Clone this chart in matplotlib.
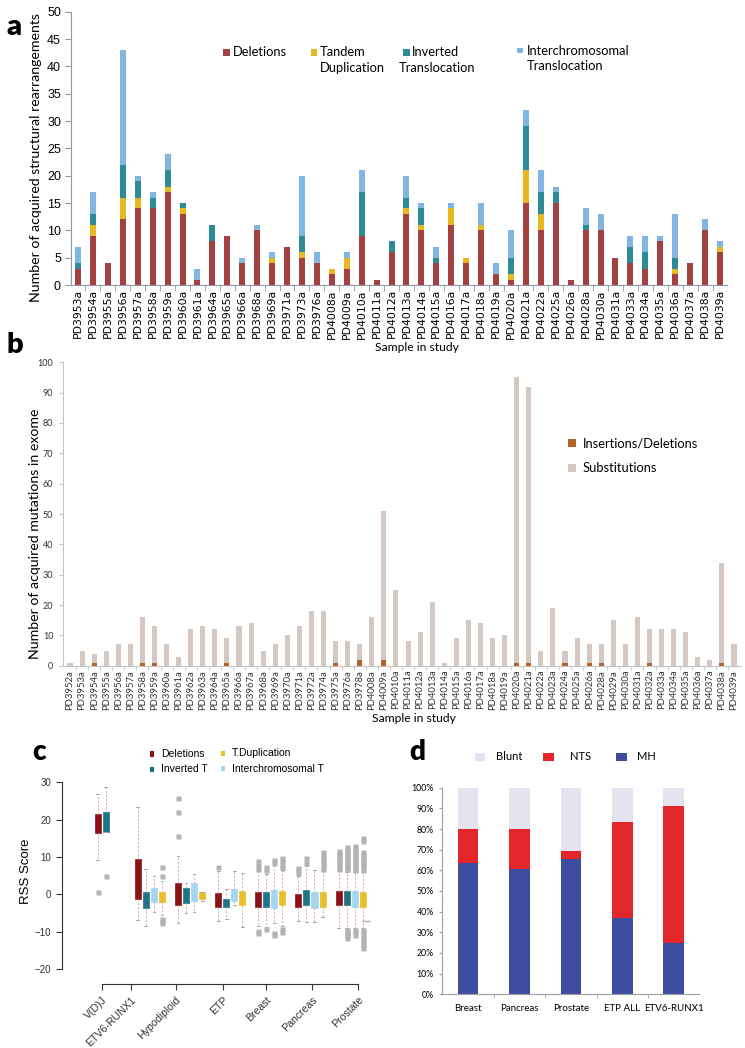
import matplotlib
matplotlib.use("Agg")
import matplotlib.pyplot as plt
from matplotlib.patches import Rectangle
import numpy as np

plt.rcParams["font.family"] = ["Lato", "DejaVu Sans"]

W, H = 745, 1048
NARROW = ["Liberation Sans", "DejaVu Sans"]

# ---------------------------------------------------------------------------
# Data
# ---------------------------------------------------------------------------

# panel a: structural rearrangements per sample
a_samples = [
    "PD3953a", "PD3954a", "PD3955a", "PD3956a", "PD3957a", "PD3958a", "PD3959a",
    "PD3960a", "PD3961a", "PD3964a", "PD3965a", "PD3966a", "PD3968a", "PD3969a",
    "PD3971a", "PD3973a", "PD3976a", "PD4008a", "PD4009a", "PD4010a", "PD4011a",
    "PD4012a", "PD4013a", "PD4014a", "PD4015a", "PD4016a", "PD4017a", "PD4018a",
    "PD4019a", "PD4020a", "PD4021a", "PD4022a", "PD4025a", "PD4026a", "PD4028a",
    "PD4030a", "PD4031a", "PD4033a", "PD4034a", "PD4035a", "PD4036a", "PD4037a",
    "PD4038a", "PD4039a",
]
a_deletions = [3, 9, 4, 12, 14, 14, 17, 13, 1, 8, 9, 4, 10, 4, 7, 5, 4, 2, 3, 9, 1,
               6, 13, 10, 4, 11, 4, 10, 2, 1, 15, 10, 15, 1, 10, 10, 5, 4, 3, 8, 2, 4, 10, 6]
a_tandem = [0, 2, 0, 4, 2, 0, 1, 1, 0, 0, 0, 0, 0, 1, 0, 1, 0, 1, 2, 0, 0,
            0, 1, 1, 0, 3, 1, 1, 0, 1, 6, 3, 0, 0, 0, 0, 0, 0, 0, 0, 1, 0, 0, 1]
a_inverted = [1, 2, 0, 6, 3, 2, 3, 1, 0, 3, 0, 0, 0, 0, 0, 3, 0, 0, 0, 8, 0,
              2, 2, 3, 1, 0, 0, 0, 0, 3, 8, 4, 2, 0, 1, 0, 0, 3, 3, 0, 2, 0, 0, 0]
a_interchrom = [3, 4, 0, 21, 1, 1, 3, 0, 2, 0, 0, 1, 1, 1, 0, 11, 2, 0, 1, 4, 0,
                0, 4, 1, 2, 1, 0, 4, 2, 5, 3, 4, 1, 0, 3, 3, 0, 2, 3, 1, 8, 0, 2, 1]

# panel b: exome mutations per sample
b_samples = [
    "PD3952a", "PD3953a", "PD3954a", "PD3955a", "PD3956a", "PD3957a", "PD3958a",
    "PD3959a", "PD3960a", "PD3961a", "PD3962a", "PD3963a", "PD3964a", "PD3965a",
    "PD3966a", "PD3967a", "PD3968a", "PD3969a", "PD3970a", "PD3971a", "PD3972a",
    "PD3974a", "PD3975a", "PD3976a", "PD3978a", "PD4008a", "PD4009a", "PD4010a",
    "PD4011a", "PD4012a", "PD4013a", "PD4014a", "PD4015a", "PD4016a", "PD4017a",
    "PD4018a", "PD4019a", "PD4020a", "PD4021a", "PD4022a", "PD4023a", "PD4024a",
    "PD4025a", "PD4026a", "PD4028a", "PD4029a", "PD4030a", "PD4031a", "PD4032a",
    "PD4033a", "PD4034a", "PD4035a", "PD4036a", "PD4037a", "PD4038a", "PD4039a",
]
b_indels = [0, 0, 1, 0, 0, 0, 1, 1, 0, 0, 0, 0, 0, 1, 0, 0, 0, 0, 0, 0, 0,
            0, 1, 0, 2, 0, 2, 0, 0, 0, 0, 0, 0, 0, 0, 0, 0, 1, 1, 0, 0, 1,
            0, 1, 1, 0, 0, 0, 1, 0, 0, 0, 0, 0, 1, 0]
b_substitutions = [1, 5, 3, 5, 7, 7, 15, 12, 7, 3, 12, 13, 12, 8, 13, 14, 5, 7, 10, 13, 18,
                   18, 7, 8, 5, 16, 49, 25, 8, 11, 21, 1, 9, 15, 14, 9, 10, 94, 91, 5, 19, 4,
                   9, 6, 6, 15, 7, 16, 11, 12, 12, 11, 3, 2, 33, 7]

# panel c: RSS score distributions (box stats per group x type)
c_groups = ["V(D)J", "ETV6-RUNX1", "Hypodiploid", "ETP", "Breast", "Pancreas", "Prostate"]
c_types = ["Deletions", "Inverted T", "Interchromosomal T", "T.Duplication"]
c_q1 = [
    [16.5, 16.7, None, None],
    [-1.3, -3.8, -2.1, -2.2],
    [-2.9, -2.4, -1.7, -1.3],
    [-3.5, -3.5, -1.8, -3.0],
    [-3.3, -3.4, -3.6, -3.0],
    [-3.5, -3.0, -3.8, -3.5],
    [-3.0, -3.0, -3.3, -3.3],
]
c_q3 = [
    [21.5, 21.9, None, None],
    [9.5, 0.7, 1.8, 0.5],
    [2.9, 1.8, 3.1, 0.5],
    [0.4, -1.2, 1.4, 1.0],
    [0.5, 0.5, 1.2, 1.0],
    [0.1, 1.2, 0.7, 0.5],
    [1.0, 0.9, 0.9, 0.7],
]
c_whislo = [
    [9.2, 16.7, None, None],
    [-6.9, -8.5, -4.7, -5.5],
    [-7.8, -4.9, -4.7, -1.8],
    [-7.2, -6.6, -3.0, -8.7],
    [-8.5, -8.7, -7.8, -8.5],
    [-7.1, -7.3, -7.3, -6.0],
    [-9.1, -9.0, -9.0, -9.0],
]
c_whishi = [
    [26.9, 28.8, None, None],
    [23.3, 6.7, 5.0, 3.5],
    [10.3, 2.9, 5.3, 0.6],
    [6.2, 1.3, 6.3, 5.6],
    [6.3, 5.3, 7.8, 6.6],
    [5.0, 7.7, 6.5, 6.1],
    [6.5, 6.0, 6.0, 6.0],
]
c_fliers = [
    [[0.7], [5.0], None, None],
    [[], [], [], [7.2, 5.0, -6.5, -7.2, -7.8]],
    [[25.9, 22.1, 15.6], [], [], []],
    [[7.4], [], [], []],
    [[8.8, 7.8, 6.8, -9.8, -10.4], [7.4, 6.6, -9.2], [9.2, 8.5, -10.3, -11.0],
     [9.7, 8.8, 7.8, 7.0, -9.3, -10.0]],
    [[7.1, 6.4, 5.7], [9.6, 8.4], [], [11.2, 10.5, 9.8, 9.0, 8.3, 7.6, 6.9]],
    [[11.6, 11.0, 10.4, 9.8, 9.2, 8.6, 8.0, 7.4, 6.8],
     [12.7, 12.1, 11.5, 10.9, 10.3, 9.7, 9.1, 8.5, 7.9, 7.3, 6.7,
      -9.5, -10.1, -10.7, -11.3, -11.8],
     [13.0, 12.4, 11.8, 11.2, 10.6, 10.0, 9.4, 8.8, 8.2, 7.6, 7.0, 6.4,
      -9.5, -10.2, -10.9],
     [15.0, 14.2, 11.4, 10.8, 10.2, 9.6, 9.0, 8.4, 7.8, 7.2, 6.6,
      -9.5, -10.2, -10.9, -11.6, -12.3, -13.0, -13.7, -14.5]],
]
c_stray_x = [33.4]
c_stray_y = [-7.1]

# panel d: junction types (%)
d_tissues = ["Breast", "Pancreas", "Prostate", "ETP ALL", "ETV6-RUNX1"]
d_mh = [63.4, 60.5, 65.3, 37.1, 24.7]
d_nts = [16.6, 19.5, 4.1, 46.3, 66.3]
d_blunt = [20.0, 20.0, 30.6, 16.6, 9.0]

# ---------------------------------------------------------------------------
# Theme
# ---------------------------------------------------------------------------

A_COLORS = ["#a2413f", "#e6b821", "#2e8b95", "#80b6e1"]
B_COLORS = ["#b4622c", "#d4c8c3"]
C_COLORS = ["#8c1117", "#1f7486", "#a3d6f0", "#e8bf27"]
D_COLORS = ["#3e4ca0", "#e3262a", "#e4e3ee"]


def fx(x):
    return x / W


def fy(y):
    return 1 - y / H


def axes_px(fig, left, top, right, bottom):
    return fig.add_axes([fx(left), fy(bottom), (right - left) / W, (bottom - top) / H])


def key(fig, x, y, w, h, color):
    fig.add_artist(Rectangle((fx(x - w / 2), fy(y + h / 2)), w / W, h / H,
                             transform=fig.transFigure, facecolor=color, edgecolor="none"))


def panel_letter(fig, x, y, s, size=21):
    fig.text(fx(x), fy(y), s, ha="left", va="baseline", fontsize=size, fontweight="heavy")


fig = plt.figure(figsize=(W / 100, H / 100), dpi=100)

# ---------------------------------------------------------------------------
# a
# ---------------------------------------------------------------------------
ax = axes_px(fig, 70.7, 11.7, 727, 285)
x = np.arange(len(a_samples))
bottom = np.zeros(len(a_samples))
for vals, col in zip([a_deletions, a_tandem, a_inverted, a_interchrom], A_COLORS):
    ax.bar(x, vals, 0.4, bottom=bottom, color=col, linewidth=0)
    bottom += np.array(vals)
ax.set_xlim(-0.49, 43.47)
ax.set_ylim(0, 50)
ax.set_yticks(range(0, 51, 5))
ax.set_xticks(x)
ax.set_xticklabels(a_samples, rotation=90, fontsize=7.8, family="DejaVu Sans")
ax.set_xticks(x[:-1] + 0.5, minor=True)
ax.tick_params(axis="x", which="major", length=0, pad=3)
ax.tick_params(axis="x", which="minor", length=4, color="#8f99a8")
ax.tick_params(axis="y", length=4, color="#8f99a8", pad=3)
for t in ax.get_yticklabels():
    t.set_family(NARROW)
    t.set_fontsize(9)
for s in ["top", "right"]:
    ax.spines[s].set_visible(False)
for s in ["left", "bottom"]:
    ax.spines[s].set_color("#8f99a8")
fig.text(fx(36), fy(158), "Number of acquired structural rearrangements",
         rotation=90, ha="center", va="center", fontsize=10.2)
fig.text(fx(417), fy(348), "Sample in study", ha="center", va="center", fontsize=8.7)
panel_letter(fig, 6, 35, "a")

key(fig, 226.7, 52.3, 6.5, 6.5, A_COLORS[0])
fig.text(fx(233.3), fy(52.3), "Deletions", va="center", fontsize=9.3)
key(fig, 314, 52.3, 6.5, 6.5, A_COLORS[1])
fig.text(fx(320), fy(52.3), "Tandem", va="center", fontsize=9.3)
fig.text(fx(320), fy(68.3), "Duplication", va="center", fontsize=9.3)
key(fig, 406.7, 52.3, 6.5, 6.5, A_COLORS[2])
fig.text(fx(411.7), fy(52.3), "Inverted", va="center", fontsize=9.3)
fig.text(fx(398.3), fy(68.3), "Translocation", va="center", fontsize=9.3)
key(fig, 520, 50.7, 6.5, 5, A_COLORS[3])
fig.text(fx(526.7), fy(50.7), "Interchromosomal", va="center", fontsize=9.3)
fig.text(fx(526.7), fy(66), "Translocation", va="center", fontsize=9.3)

# ---------------------------------------------------------------------------
# b
# ---------------------------------------------------------------------------
ax = axes_px(fig, 63, 362.3, 741, 665.7)
x = np.arange(len(b_samples))
ax.bar(x, b_indels, 0.42, color=B_COLORS[0], linewidth=0)
ax.bar(x, b_substitutions, 0.42, bottom=b_indels, color=B_COLORS[1], linewidth=0)
ax.set_xlim(-0.58, 55.58)
ax.set_ylim(0, 100)
ax.set_yticks(range(0, 101, 10))
ax.set_xticks(x)
ax.set_xticklabels(b_samples, rotation=90, fontsize=6.8, color="#333333")
ax.set_xticks(x[:-1] + 0.5, minor=True)
ax.tick_params(axis="x", which="major", length=0, pad=3)
ax.tick_params(axis="x", which="minor", length=3, color="#c4c4c4")
ax.tick_params(axis="y", length=3, color="#c4c4c4", labelsize=6.5, labelcolor="#333333", pad=4)
for s in ["top", "right"]:
    ax.spines[s].set_visible(False)
for s in ["left", "bottom"]:
    ax.spines[s].set_color("#c4c4c4")
fig.text(fx(35), fy(534), "Number of acquired mutations in exome",
         rotation=90, ha="center", va="center", fontsize=10.2)
fig.text(fx(414), fy(718), "Sample in study", ha="center", va="center", fontsize=8.7)
panel_letter(fig, 6, 353, "b")

key(fig, 571.7, 443.3, 8, 8, B_COLORS[0])
fig.text(fx(583), fy(443.3), "Insertions/Deletions", va="center", fontsize=9.3)
key(fig, 571.7, 468.3, 8, 8, B_COLORS[1])
fig.text(fx(583), fy(468.3), "Substitutions", va="center", fontsize=9.3)

# ---------------------------------------------------------------------------
# c
# ---------------------------------------------------------------------------
ax = axes_px(fig, 61.6, 778.5, 372.3, 983.9)
group_start = [0, 5, 10, 15, 20, 25, 30]
for gi in range(len(c_groups)):
    for ti in range(len(c_types)):
        if c_q1[gi][ti] is None:
            continue
        stats = [{
            "q1": c_q1[gi][ti], "q3": c_q3[gi][ti], "med": c_q1[gi][ti],
            "whislo": c_whislo[gi][ti], "whishi": c_whishi[gi][ti],
            "fliers": c_fliers[gi][ti],
        }]
        ax.bxp(stats, positions=[group_start[gi] + ti], widths=0.75, capwidths=0.35,
               patch_artist=True, showfliers=True,
               boxprops=dict(facecolor=C_COLORS[ti], edgecolor=C_COLORS[ti], linewidth=0.5),
               whiskerprops=dict(color="#d4a9a9", linewidth=0.7, linestyle=(0, (2, 2))),
               capprops=dict(color="#a8a8a8", linewidth=0.7),
               medianprops=dict(linewidth=0),
               flierprops=dict(marker="s", markersize=3.6, markerfacecolor="#b3b3b3",
                               markeredgecolor="none"))
ax.plot(c_stray_x, c_stray_y, marker="_", markersize=6, color="#aaaaaa", linestyle="none")
ax.set_xlim(-4.5, 34.2)
ax.set_ylim(-24, 31)
ax.set_yticks(range(-20, 31, 10))
ax.set_xticks([0.5, 4.1, 9.7, 15.6, 21.0, 26.7, 32.4])
ax.set_xticklabels(c_groups, rotation=45, ha="right", rotation_mode="anchor",
                   fontsize=7.6, family=NARROW)
for t in ax.get_yticklabels():
    t.set_family(NARROW)
    t.set_fontsize(7)
ax.tick_params(axis="both", length=4, width=0.8, colors="#333333")
ax.tick_params(axis="x", pad=4)
for s in ["top", "right"]:
    ax.spines[s].set_visible(False)
ax.spines["left"].set_bounds(-20, 30)
ax.spines["bottom"].set_bounds(0.5, 32.4)
for s in ["left", "bottom"]:
    ax.spines[s].set_color("#333333")
    ax.spines[s].set_linewidth(0.8)
fig.text(fx(26), fy(871), "RSS Score", rotation=90, ha="center", va="center",
         fontsize=9.5, family=NARROW)
panel_letter(fig, 32, 760, "c", 20)

for (kx, ky), lab, col in zip([(151.7, 754), (151.7, 769.3), (222.7, 753.3), (222.7, 768.7)],
                              ["Deletions", "Inverted T", "T.Duplication", "Interchromosomal T"],
                              [C_COLORS[0], C_COLORS[1], C_COLORS[3], C_COLORS[2]]):
    key(fig, kx, ky, 4, 5.5, col)
    fig.text(fx(kx + 9), fy(ky), lab, va="center", fontsize=7.5, family=NARROW)

# ---------------------------------------------------------------------------
# d
# ---------------------------------------------------------------------------
ax = axes_px(fig, 442.3, 787.7, 699.4, 994.3)
x = np.arange(len(d_tissues))
ax.bar(x, d_mh, 0.4, color=D_COLORS[0], linewidth=0)
ax.bar(x, d_nts, 0.4, bottom=d_mh, color=D_COLORS[1], linewidth=0)
ax.bar(x, d_blunt, 0.4, bottom=np.array(d_mh) + np.array(d_nts), color=D_COLORS[2], linewidth=0)
ax.set_xlim(-0.5, 4.5)
ax.set_ylim(0, 100)
ax.set_yticks(range(0, 101, 10))
ax.set_yticklabels([f"{v}%" for v in range(0, 101, 10)])
ax.set_xticks(x)
ax.set_xticklabels(d_tissues, fontsize=7)
ax.set_xticks(x[:-1] + 0.5, minor=True)
ax.tick_params(axis="x", which="major", length=0, pad=7)
ax.tick_params(axis="x", which="minor", length=3, color="#a0a0a0")
ax.tick_params(axis="y", length=2, color="#a0a0a0", labelsize=6.3, pad=4)
for s in ["top", "right"]:
    ax.spines[s].set_visible(False)
for s in ["left", "bottom"]:
    ax.spines[s].set_color("#a0a0a0")
panel_letter(fig, 409, 760, "d", 20)

for kx, tx, lab, col in zip([480, 548.7, 621.7], [496, 570, 636.7],
                            ["Blunt", "NTS", "MH"],
                            [D_COLORS[2], D_COLORS[1], D_COLORS[0]]):
    key(fig, kx, 757, 11, 8, col)
    fig.text(fx(tx), fy(757), lab, va="center", fontsize=8)

fig.savefig("out.png", dpi=100, facecolor="white")
